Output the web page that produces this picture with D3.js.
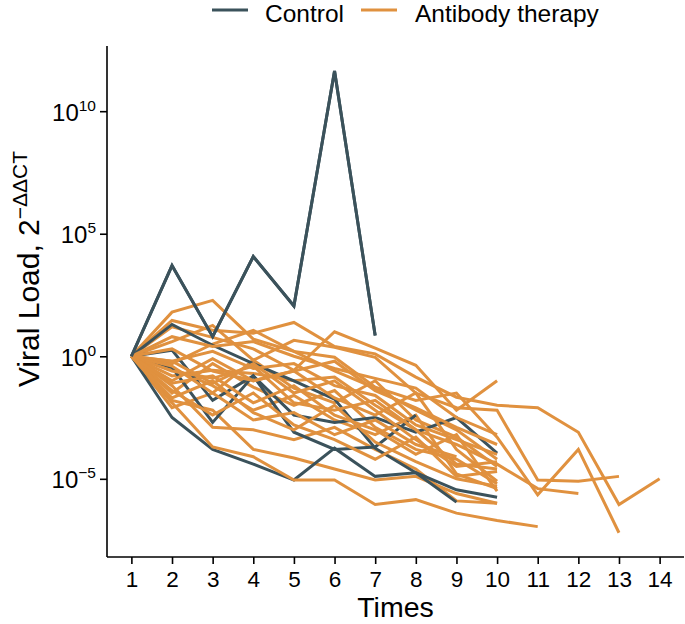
<!DOCTYPE html>
<html>
<head>
<meta charset="utf-8">
<script src="https://cdn.jsdelivr.net/npm/d3@7"></script>
<style>
  html, body { margin: 0; padding: 0; background: #fff; }
  svg { display: block; font-family: "Liberation Sans", Arial, Helvetica, sans-serif; }
</style>
</head>
<body>
<svg id="chart" width="685" height="624"></svg>
<script>
// ---- data (values are log10 of viral load, 2^-ΔΔCT) ----
const times = [1, 2, 3, 4, 5, 6, 7, 8, 9, 10, 11, 12, 13, 14];
const groups = ["Control", "Antibody therapy"];
const yTickExponents = [-5, 0, 5, 10];

const control1 = [0, 3.7, 0.8, 4.07, 2.05, 11.64, 0.85];
const control2 = [0, 1.3, 0.45, -0.3, -1.0, -1.75, -3.75, -4.75, -5.45, -5.75];
const control3 = [0, -2.5, -3.8, -4.4, -5.05, -3.75, -4.9, -4.75, -5.95];
const control4 = [0, 0.25, -1.8, -0.8, -2.4, -2.7, -2.5, -3.1, -2.5, -3.95];
const control5 = [0, -0.45, -2.7, -0.8, -3.1, -3.8, -3.7, -2.4];

const antibody1  = [0, 1.8, 2.28, 0.7, 0.2, -0.6, -1.3, -2.2, -3.0, -4.2];
const antibody2  = [0, 1.46, 1.06, 0.94, 1.38, 0.4, 0.1, -0.85, -1.67, -2.0, -2.1, -3.1, -6.05, -5.0];
const antibody3  = [0, 1.2, 0.77, 0.3, -0.57, 1.0, 0.33, -0.37, -2.2, -1.0];
const antibody4  = [0, 0.6, 1.26, -0.16, 0.65, 0.37, -0.04, -1.5, -2.1, -2.2, -5.05, -5.1, -4.9];
const antibody5  = [0, -0.3, 0.5, 1.06, 0.2, -0.04, -1.26, -1.8, -1.5, -3.3, -5.65, -3.8, -7.2];
const antibody6  = [0, -0.8, -0.57, -0.7, -1.0, -0.85, -2.0, -3.0, -3.6, -4.4, -5.4, -5.6];
const antibody7  = [0, -1.2, -2.9, -3.0, -3.4, -2.9, -3.8, -4.6, -5.9, -6.0];
const antibody8  = [0, -2.1, -1.5, -0.16, -1.3, -1.9, -1.0, -2.6, -3.3, -4.5];
const antibody9  = [0, -1.5, -0.3, -1.26, -2.0, -1.4, -2.9, -3.8, -4.2, -5.2];
const antibody10 = [0, -0.5, -1.2, -2.2, -1.6, -2.6, -3.2, -2.4, -4.8, -5.4];
const antibody11 = [0, -1.8, -2.2, -3.8, -4.15, -4.6, -5.05, -4.9, -5.6, -6.0];
const antibody12 = [0, -1.9, -3.7, -4.1, -5.05, -5.05, -6.05, -5.85, -6.4, -6.7, -6.95];
const antibody13 = [0, -0.2, 0.2, -0.5, -0.3, -1.2, -1.6, -2.8, -3.4, -4.0];
const antibody14 = [0, -0.6, -0.9, -0.4, -1.9, -2.2, -1.8, -3.0, -4.4, -4.6];
const antibody15 = [0, -1.0, -0.1, -1.0, -0.6, -1.7, -2.4, -1.5, -3.8, -5.1];
const antibody16 = [0, -0.4, -1.5, -2.6, -2.3, -3.2, -2.6, -3.6, -4.1];
const antibody17 = [0, -1.4, -2.4, -1.5, -2.8, -3.4, -4.2, -3.3, -4.9, -4.7];
const antibody18 = [0, 0.3, -0.6, -1.0, -0.6, -0.2, -1.4, -2.1, -2.9, -3.6];
const antibody19 = [0, -1.1, -0.8, -1.9, -1.2, -2.4, -3.0, -4.0, -3.2, -5.5];
const antibody20 = [0, -0.2, -1.1, -0.3, -1.5, -1.0, -2.2, -3.4, -4.5, -4.3];
const antibody21 = [0, 0.8, 0.4, 0.6, 0.0, -0.5, -0.9, -1.3, -2.5, -3.2];
const antibody22 = [0, -1.7, -1.0, -2.3, -3.0, -2.0, -3.5, -4.3, -5.0, -5.3];

const controlSeries = [control1, control2, control3, control4, control5];
const antibodySeries = [antibody1, antibody2, antibody3, antibody4, antibody5, antibody6,
  antibody7, antibody8, antibody9, antibody10, antibody11, antibody12, antibody13,
  antibody14, antibody15, antibody16, antibody17, antibody18, antibody19, antibody20,
  antibody21, antibody22];

const colors = { "Control": "#3b525b", "Antibody therapy": "#e0913f" };

// ---- layout ----
const svg = d3.select("#chart");
const pLeft = 107, pRight = 684, pTop = 46, pBottom = 557;

const x = d3.scaleLinear().domain([0.4, 14.6]).range([pLeft, pRight]);
const y = d3.scaleLog().domain([Math.pow(10, -8.19), Math.pow(10, 12.66)]).range([pBottom, pTop]);

const line = d3.line()
  .x((d, i) => x(times[i]))
  .y(d => y(Math.pow(10, d)));

// build draw list (interleave groups)
const series = [];
antibodySeries.slice(0, 11).forEach(s => series.push({ g: "Antibody therapy", v: s }));
controlSeries.forEach(s => series.push({ g: "Control", v: s }));
antibodySeries.slice(11).forEach(s => series.push({ g: "Antibody therapy", v: s }));

svg.append("g")
  .selectAll("path")
  .data(series)
  .join("path")
  .attr("d", d => line(d.v))
  .attr("fill", "none")
  .attr("stroke", d => colors[d.g])
  .attr("stroke-width", 3)
  .attr("stroke-linejoin", "miter")
  .attr("stroke-linecap", "butt");

// re-draw the control spike on top
svg.append("path")
  .attr("d", line(control1))
  .attr("fill", "none")
  .attr("stroke", colors["Control"])
  .attr("stroke-width", 3);

// ---- axes ----
const xAxis = svg.append("g")
  .attr("transform", `translate(0,${pBottom})`)
  .call(d3.axisBottom(x).tickValues(times).tickFormat(d3.format("d")).tickSize(7).tickPadding(7).tickSizeOuter(0));
xAxis.select(".domain").attr("stroke", "#000").attr("stroke-width", 1.6)
  .attr("d", `M${pLeft},0H${pRight}`);
xAxis.selectAll(".tick line").attr("stroke", "#000").attr("stroke-width", 1.6);
xAxis.selectAll(".tick text").attr("font-size", 22.5).attr("fill", "#000")
  .attr("font-family", "Liberation Sans, Arial, sans-serif");

const yAxis = svg.append("g")
  .attr("transform", `translate(${pLeft},0)`)
  .call(d3.axisLeft(y).tickValues(yTickExponents.map(e => Math.pow(10, e))).tickFormat(() => "").tickSize(7).tickSizeOuter(0));
yAxis.select(".domain").attr("stroke", "#000").attr("stroke-width", 1.6)
  .attr("d", `M0,${pTop}V${pBottom}`);
yAxis.selectAll(".tick line").attr("stroke", "#000").attr("stroke-width", 1.6);
yAxis.selectAll(".tick text").remove();
yAxis.selectAll(".tick").each(function(d) {
  const e = Math.round(Math.log10(d));
  const t = d3.select(this).append("text")
    .attr("x", -11).attr("y", 9)
    .attr("text-anchor", "end")
    .attr("fill", "#000")
    .attr("font-size", 24)
    .attr("font-family", "Liberation Sans, Arial, sans-serif");
  t.append("tspan").text("10");
  t.append("tspan").attr("dy", -10).attr("font-size", 15.5)
    .text(e < 0 ? "\u2212" + Math.abs(e) : String(e));
});

// axis titles
svg.append("text")
  .attr("x", (pLeft + pRight) / 2).attr("y", 617)
  .attr("text-anchor", "middle")
  .attr("font-size", 28.5).attr("fill", "#000")
  .text("Times");

const yTitle = svg.append("text")
  .attr("transform", `translate(39,269) rotate(-90)`)
  .attr("text-anchor", "middle")
  .attr("font-size", 30).attr("fill", "#000");
yTitle.append("tspan").text("Viral Load, 2");
yTitle.append("tspan").attr("dy", -12).attr("font-size", 21).text("\u2212\u0394\u0394CT");

// ---- legend ----
const legendItems = [
  { g: groups[0], x0: 212, tx: 265 },
  { g: groups[1], x0: 361, tx: 415 }
];
const lg = svg.append("g");
legendItems.forEach(it => {
  lg.append("line")
    .attr("x1", it.x0).attr("x2", it.x0 + 36)
    .attr("y1", 10).attr("y2", 10)
    .attr("stroke", colors[it.g]).attr("stroke-width", 3);
  lg.append("text")
    .attr("x", it.tx).attr("y", 22)
    .attr("font-size", 24.5).attr("fill", "#000")
    .text(it.g);
});
</script>
</body>
</html>
